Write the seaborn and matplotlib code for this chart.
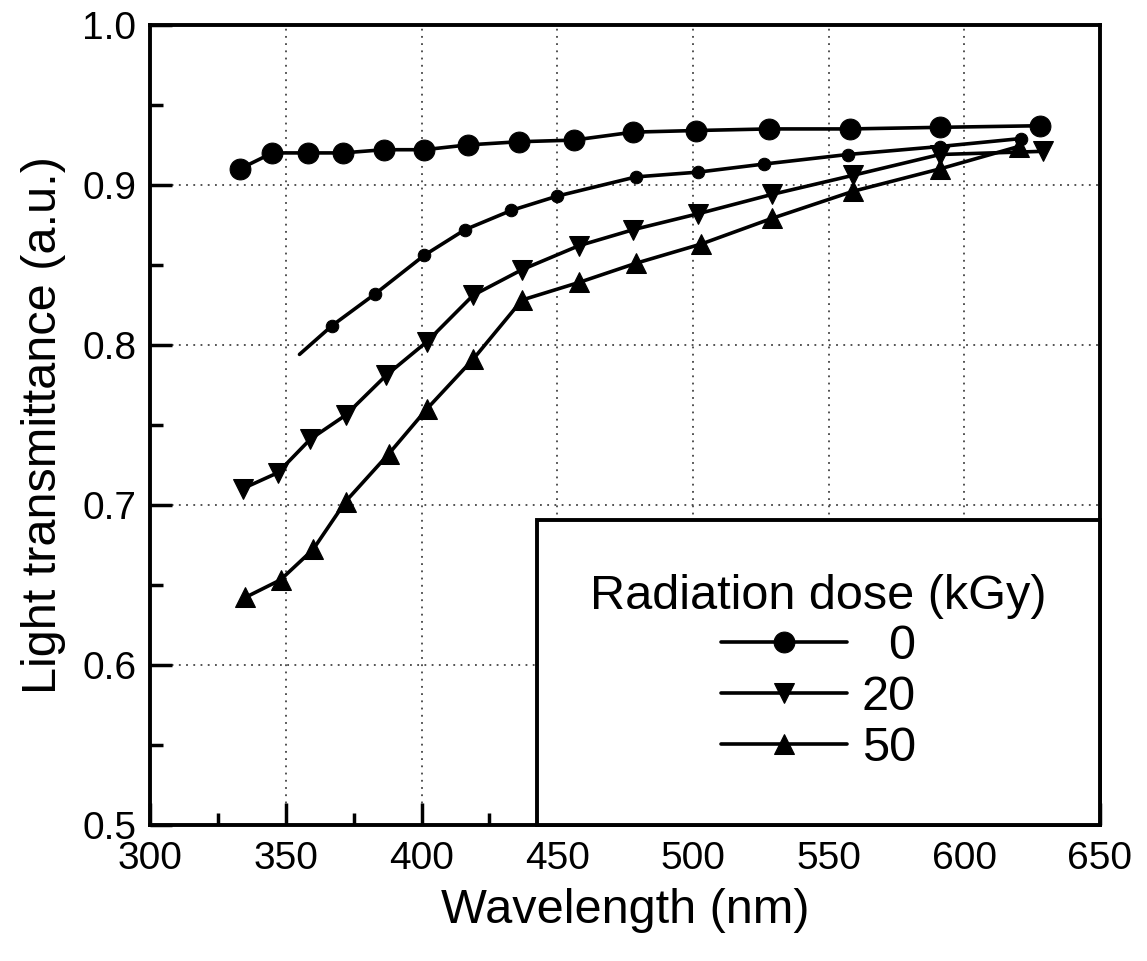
import matplotlib
matplotlib.use("Agg")
import matplotlib.pyplot as plt
from matplotlib.ticker import MultipleLocator
import numpy as np
import pandas as pd
import seaborn as sns

# values
wl_0 = [333, 345, 358, 371, 386, 401, 417, 436, 456, 478, 501, 528, 558, 591, 628]
tr_0 = [0.910, 0.920, 0.920, 0.920, 0.922, 0.922, 0.925, 0.927, 0.928, 0.933, 0.934,
        0.935, 0.935, 0.936, 0.937]

# small-dot curve (not in the legend), line begins without a marker
wl_s = [355, 367, 383, 401, 416, 433, 450, 479, 502, 526, 557, 591, 621]
tr_s = [0.794, 0.812, 0.832, 0.856, 0.872, 0.884, 0.893, 0.905, 0.908, 0.913,
        0.919, 0.924, 0.929]

wl_20 = [334, 347, 359, 372, 387, 402, 419, 437, 458, 478, 502, 529, 559, 591, 629]
tr_20 = [0.710, 0.720, 0.741, 0.756, 0.781, 0.802, 0.831, 0.847, 0.862, 0.872, 0.882,
         0.894, 0.906, 0.919, 0.921]

wl_50 = [335, 348, 360, 372, 388, 402, 419, 437, 458, 479, 503, 529, 559, 591, 620]
tr_50 = [0.642, 0.653, 0.672, 0.702, 0.732, 0.760, 0.791, 0.828, 0.839, 0.851, 0.863,
         0.879, 0.896, 0.910, 0.924]

dose_labels = ["  0", "20", "50"]

sns.set_style("ticks")
plt.rcParams["font.family"] = ["Liberation Sans", "DejaVu Sans"]
plt.rcParams["text.color"] = "black"
plt.rcParams["axes.labelcolor"] = "black"
plt.rcParams["xtick.color"] = "black"
plt.rcParams["ytick.color"] = "black"

fig = plt.figure(figsize=(11.47, 9.61), dpi=100)
ax = fig.add_axes([0.131, 0.142, 0.828, 0.832])

lw = 2.6
d0 = pd.DataFrame({"wl": wl_0, "tr": tr_0})
ds = pd.DataFrame({"wl": wl_s, "tr": tr_s})
d20 = pd.DataFrame({"wl": wl_20, "tr": tr_20})
d50 = pd.DataFrame({"wl": wl_50, "tr": tr_50})

sns.lineplot(data=d0, x="wl", y="tr", ax=ax, color="black", lw=lw, marker="o",
             markersize=15, markeredgecolor="black", label=dose_labels[0])
sns.lineplot(data=ds, x="wl", y="tr", ax=ax, color="black", lw=lw, marker="o",
             markersize=9, markeredgecolor="black", markevery=list(range(1, len(wl_s))),
             label="_nolegend_")
sns.lineplot(data=d20, x="wl", y="tr", ax=ax, color="black", lw=lw, marker="v",
             markersize=15, markeredgecolor="black", label=dose_labels[1])
sns.lineplot(data=d50, x="wl", y="tr", ax=ax, color="black", lw=lw, marker="^",
             markersize=15, markeredgecolor="black", label=dose_labels[2])

ax.set_xlim(300, 650)
ax.set_ylim(0.5, 1.0)
ax.xaxis.set_major_locator(MultipleLocator(50))
ax.xaxis.set_minor_locator(MultipleLocator(25))
ax.yaxis.set_major_locator(MultipleLocator(0.1))
ax.yaxis.set_minor_locator(MultipleLocator(0.05))
ax.set_yticks([0.5, 0.6, 0.7, 0.8, 0.9, 1.0])
ax.set_yticklabels(["0.5", "0.6", "0.7", "0.8", "0.9", "1.0"])

ax.grid(True, which="major", color="#444444", linestyle=(0, (1, 3)), linewidth=1.3)
ax.tick_params(which="major", direction="in", length=16, width=2.5, labelsize=28,
               top=False, right=False)
ax.tick_params(axis="x", which="major", pad=12)
ax.tick_params(axis="y", which="major", pad=10)
ax.tick_params(which="minor", direction="in", length=9, width=2.5, top=False, right=False)

for s in ax.spines.values():
    s.set_visible(True)
    s.set_linewidth(2.8)
    s.set_color("black")

ax.set_xlabel("Wavelength (nm)", fontsize=35, labelpad=8)
ax.set_ylabel("Light transmittance (a.u.)", fontsize=35, labelpad=12)

leg = ax.legend(title="Radiation dose (kGy)", loc="lower right", bbox_to_anchor=(1.0, 0.0),
                fontsize=35, title_fontsize=35, frameon=True, fancybox=False,
                edgecolor="black", framealpha=1, borderpad=1.1, labelspacing=0.12,
                handlelength=2.6, handletextpad=0.3, borderaxespad=0, alignment="center")
leg.get_frame().set_linewidth(2.8)

fig.savefig("out.png", dpi=100)
